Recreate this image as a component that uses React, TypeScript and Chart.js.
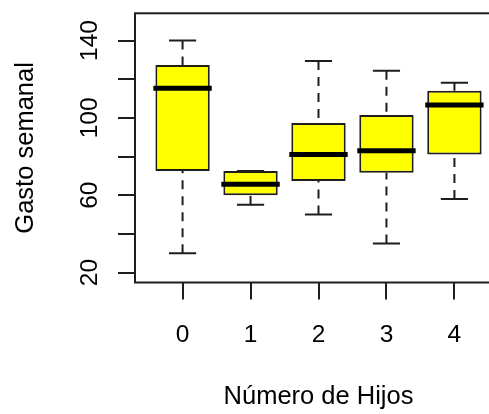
import React, { useEffect, useRef } from 'react';
import { Chart, registerables } from 'chart.js';

Chart.register(...registerables);

const categories = ['0', '1', '2', '3', '4'];
const xPositions = [0, 1, 2, 3, 4];
const whiskerLow = [30, 55, 50, 35, 58];
const q1 = [72.5, 60, 67.3, 71.6, 81];
const medians = [115.3, 65.6, 81, 83, 106.6];
const q3 = [127.3, 72.5, 97.3, 101.5, 114];
const whiskerHigh = [140, 72.5, 129.4, 124.4, 118.2];
const yTicks = [20, 40, 60, 80, 100, 120, 140];
const yTickLabels = ['20', '', '60', '', '100', '', '140'];
const xTitle = 'Número de Hijos';
const yTitle = 'Gasto semanal';

const FONT = 'Liberation Sans, Arial, Helvetica, sans-serif';
const LINE = '#1e1e1e';

const boxplotPlugin = {
  id: 'boxplotExtras',
  beforeDatasetsDraw(chart: any) {
    const { ctx, scales } = chart;
    const y = scales.y;
    const meta = chart.getDatasetMeta(0);
    ctx.save();
    ctx.strokeStyle = LINE;
    ctx.lineWidth = 2;
    meta.data.forEach((bar: any, i: number) => {
      const { x: cx, width } = bar.getProps(['x', 'width'], true);
      const capHalf = width / 4;
      const yLo = y.getPixelForValue(whiskerLow[i]);
      const yHi = y.getPixelForValue(whiskerHigh[i]);
      const yQ1 = y.getPixelForValue(q1[i]);
      const yQ3 = y.getPixelForValue(q3[i]);
      ctx.setLineDash([9, 7]);
      ctx.beginPath();
      ctx.moveTo(cx, yLo);
      ctx.lineTo(cx, yQ1);
      ctx.moveTo(cx, yHi);
      ctx.lineTo(cx, yQ3);
      ctx.stroke();
      ctx.setLineDash([]);
      ctx.beginPath();
      ctx.moveTo(cx - capHalf, yLo);
      ctx.lineTo(cx + capHalf, yLo);
      ctx.moveTo(cx - capHalf, yHi);
      ctx.lineTo(cx + capHalf, yHi);
      ctx.stroke();
    });
    ctx.restore();
  },
  afterDatasetsDraw(chart: any) {
    const { ctx, scales, chartArea } = chart;
    const y = scales.y;
    const meta = chart.getDatasetMeta(0);
    ctx.save();
    ctx.setLineDash([]);
    ctx.strokeStyle = '#000000';
    ctx.lineWidth = 5;
    meta.data.forEach((bar: any, i: number) => {
      const { x: cx, width } = bar.getProps(['x', 'width'], true);
      const yM = y.getPixelForValue(medians[i]);
      ctx.beginPath();
      ctx.moveTo(cx - width / 2 - 2, yM);
      ctx.lineTo(cx + width / 2 + 2, yM);
      ctx.stroke();
    });
    ctx.strokeStyle = LINE;
    ctx.lineWidth = 2;
    ctx.strokeRect(
      chartArea.left,
      chartArea.top,
      chartArea.right - chartArea.left,
      chartArea.bottom - chartArea.top
    );
    ctx.restore();
  },
};

export default function App() {
  const canvasRef = useRef<HTMLCanvasElement | null>(null);

  useEffect(() => {
    if (!canvasRef.current) return;
    const chart = new Chart(canvasRef.current, {
      type: 'bar',
      data: {
        datasets: [
          {
            data: xPositions.map((x, i) => ({ x, y: [q1[i], q3[i]] })) as any,
            backgroundColor: '#FFFF00',
            borderColor: LINE,
            borderWidth: 2,
            borderSkipped: false,
            categoryPercentage: 1,
            barPercentage: 0.8,
          } as any,
        ],
      },
      options: {
        animation: false,
        responsive: false,
        maintainAspectRatio: false,
        layout: { padding: { top: 13.3, right: 8, bottom: 0, left: 0 } },
        plugins: {
          legend: { display: false },
          tooltip: { enabled: false },
        },
        scales: {
          x: {
            type: 'linear',
            min: -0.7,
            max: 4.7,
            offset: false,
            afterBuildTicks: (s: any) => {
              s.ticks = xPositions.map((v) => ({ value: v }));
            },
            afterFit: (s: any) => {
              s.height = 131.5;
              s.paddingLeft = 0;
              s.paddingRight = 0;
            },
            grid: {
              display: true,
              offset: false,
              drawOnChartArea: false,
              drawTicks: true,
              tickLength: 17,
              color: LINE,
              lineWidth: 2,
              tickWidth: 2,
            },
            border: { display: false },
            ticks: {
              autoSkip: false,
              maxRotation: 0,
              minRotation: 0,
              padding: 21,
              color: '#000',
              font: { family: FONT, size: 24.5 },
              callback: (_v: any, i: number) => categories[i],
            },
            title: {
              display: true,
              text: xTitle,
              color: '#000',
              font: { family: FONT, size: 25.5 },
              padding: { top: 0, bottom: 2 },
            },
          },
          y: {
            type: 'linear',
            min: 14.83,
            max: 154.1,
            afterBuildTicks: (s: any) => {
              s.ticks = yTicks.map((v) => ({ value: v }));
            },
            afterFit: (s: any) => {
              s.width = 135;
              s.paddingTop = 0;
              s.paddingBottom = 0;
            },
            grid: {
              display: true,
              offset: false,
              drawOnChartArea: false,
              drawTicks: true,
              tickLength: 17,
              color: LINE,
              lineWidth: 2,
              tickWidth: 2,
            },
            border: { display: false },
            ticks: {
              autoSkip: false,
              minRotation: 90,
              maxRotation: 90,
              crossAlign: 'center',
              padding: 7,
              color: '#000',
              font: { family: FONT, size: 24.5 },
              callback: (_v: any, i: number) => yTickLabels[i],
            },
            title: {
              display: true,
              text: yTitle,
              color: '#000',
              font: { family: FONT, size: 25.5 },
              padding: { top: 11, bottom: 0 },
            },
          },
        },
      } as any,
      plugins: [boxplotPlugin],
    });
    return () => chart.destroy();
  }, []);

  return (
    <div
      style={{
        position: 'fixed',
        left: 0,
        top: 0,
        width: 489,
        height: 414,
        overflow: 'hidden',
        background: '#ffffff',
      }}
    >
      <canvas
        ref={canvasRef}
        width={510}
        height={414}
        style={{ display: 'block', width: 510, height: 414 }}
      />
    </div>
  );
}
